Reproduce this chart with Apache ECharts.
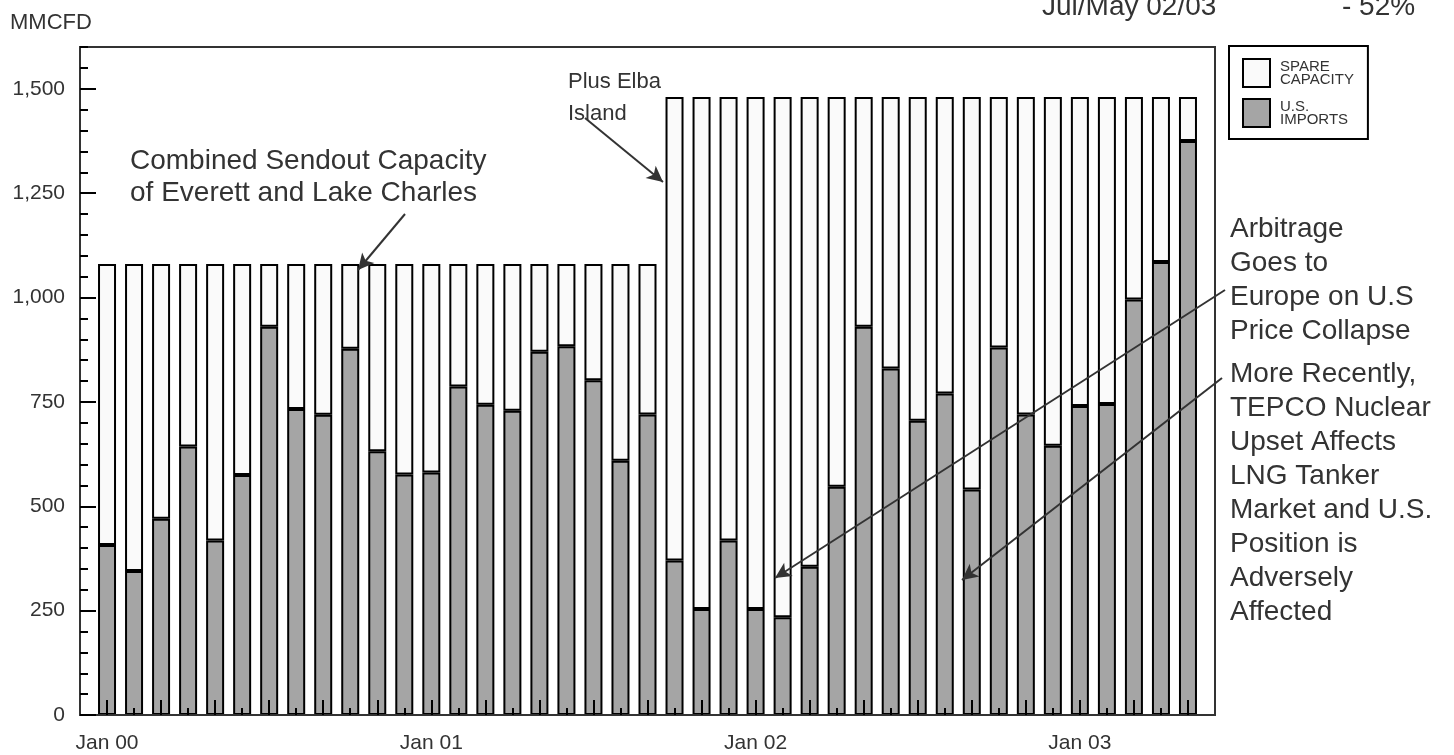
<!DOCTYPE html>
<html>
<head>
<meta charset="utf-8">
<script src="https://cdn.jsdelivr.net/npm/echarts@6/dist/echarts.min.js"></script>
<style>
html,body{margin:0;padding:0;background:#fff;}
#chart{width:1454px;height:755px;}
</style>
</head>
<body>
<div id="chart"></div>
<script>
// ---- data ----
const months = ['Jan 00','Feb 00','Mar 00','Apr 00','May 00','Jun 00','Jul 00','Aug 00','Sep 00','Oct 00','Nov 00','Dec 00',
  'Jan 01','Feb 01','Mar 01','Apr 01','May 01','Jun 01','Jul 01','Aug 01','Sep 01','Oct 01','Nov 01','Dec 01',
  'Jan 02','Feb 02','Mar 02','Apr 02','May 02','Jun 02','Jul 02','Aug 02','Sep 02','Oct 02','Nov 02','Dec 02',
  'Jan 03','Feb 03','Mar 03','Apr 03','May 03'];
const shownLabels = ['Jan 00','Jan 01','Jan 02','Jan 03'];
const usImports = [407,345,470,643,418,575,930,733,719,877,632,576,
  581,787,743,729,870,883,802,609,720,370,254,418,
  254,234,355,547,930,830,705,770,540,880,720,645,
  740,745,995,1085,1375];
const capacity = [1080,1080,1080,1080,1080,1080,1080,1080,1080,1080,1080,1080,
  1080,1080,1080,1080,1080,1080,1080,1080,1080,1480,1480,1480,
  1480,1480,1480,1480,1480,1480,1480,1480,1480,1480,1480,1480,
  1480,1480,1480,1480,1480];
const yTicks = [0,250,500,750,1000,1250,1500];

// ---- build ----
const cats = [' '].concat(months, ['  ']);
const spare = capacity.map((c,i)=>c-usImports[i]);
const pad = arr => ['-'].concat(arr, ['-']);
const FONT = 'Liberation Sans, Arial, sans-serif';
const TXT = '#333';

const chart = echarts.init(document.getElementById('chart'), null, {renderer:'canvas'});
const option = {
  animation:false,
  backgroundColor:'#fff',
  textStyle:{fontFamily:FONT},
  grid:{left:80,right:239,top:47,bottom:40,show:true,borderColor:'#333',borderWidth:2,backgroundColor:'transparent'},
  legend:{
    orient:'vertical',left:1229,top:46,icon:'rect',
    data:['SPARE\nCAPACITY','U.S.\nIMPORTS'],
    borderColor:'#000',borderWidth:2,padding:[12,14,11,13],
    itemWidth:27,itemHeight:28,itemGap:10,
    textStyle:{fontFamily:FONT,fontSize:15,lineHeight:13,color:TXT,padding:[0,0,0,5]}
  },
  xAxis:[{
    type:'category',data:cats,boundaryGap:false,position:'bottom',z:10,
    axisLine:{show:true,lineStyle:{color:'#333',width:2}},
    axisTick:{show:true,inside:true,length:15,lineStyle:{color:'#000',width:2},
      interval:function(i){return i%2===1 && i<cats.length-1;}},
    axisLabel:{show:true,interval:0,color:TXT,fontSize:21,fontFamily:FONT,margin:18,
      formatter:function(v){return shownLabels.indexOf(v)>=0?v:'';}},
    splitLine:{show:false}
  },{
    type:'category',data:cats,boundaryGap:false,position:'bottom',z:10,offset:0,
    axisLine:{show:false},
    axisTick:{show:true,inside:true,length:7,lineStyle:{color:'#000',width:2},
      interval:function(i){return i%2===0 && i>0 && i<cats.length-1;}},
    axisLabel:{show:false},splitLine:{show:false}
  }],
  yAxis:[{
    type:'value',min:0,max:1600,interval:250,position:'left',z:10,
    axisLine:{show:true,lineStyle:{color:'#333',width:2}},
    axisTick:{show:true,inside:true,length:16,lineStyle:{color:'#000',width:2}},
    axisLabel:{color:TXT,fontSize:21,fontFamily:FONT,margin:15,showMaxLabel:false,
      formatter:function(v){return yTicks.indexOf(v)>=0?v.toLocaleString('en-US'):'';}},
    splitLine:{show:false}
  },{
    type:'value',min:0,max:1600,interval:50,position:'left',z:10,offset:0,
    axisLine:{show:false},
    axisTick:{show:true,inside:true,length:8,lineStyle:{color:'#000',width:2}},
    axisLabel:{show:false},splitLine:{show:false}
  }],
  series:[{
    name:'U.S.\nIMPORTS',type:'bar',stack:'t',xAxisIndex:0,yAxisIndex:0,barWidth:18,
    itemStyle:{color:'#a5a5a5',borderColor:'#000',borderWidth:2},
    data:pad(usImports)
  },{
    name:'SPARE\nCAPACITY',type:'bar',stack:'t',xAxisIndex:0,yAxisIndex:0,barWidth:18,
    itemStyle:{color:'#fafafa',borderColor:'#000',borderWidth:2},
    data:pad(spare),
    markLine:{
      silent:true,symbol:['none','arrow'],symbolSize:[12,16],
      label:{show:false},
      lineStyle:{color:'#333',width:2,type:'solid'},
      data:[
        [{x:585,y:118},{x:663,y:182}],
        [{x:405,y:214},{x:358,y:270}],
        [{x:1225,y:290},{x:775,y:578}],
        [{x:1222,y:378},{x:962,y:580}]
      ]
    }
  }],
  graphic:[
    {type:'text',left:10,top:12,style:{text:'MMCFD',font:'22px '+FONT,fill:TXT}},
    {type:'text',left:1042,top:-7,style:{text:'Jul/May 02/03',font:'28px '+FONT,fill:TXT}},
    {type:'text',left:1342,top:-7,style:{text:'- 52%',font:'28px '+FONT,fill:TXT}},
    {type:'text',left:568,top:66,style:{text:'Plus Elba\nIsland',font:'22px '+FONT,fill:TXT,lineHeight:32}},
    {type:'text',left:130,top:145,style:{text:'Combined Sendout Capacity\nof Everett and Lake Charles',font:'28px '+FONT,fill:TXT,lineHeight:32}},
    {type:'text',left:1230,top:212,style:{text:'Arbitrage\nGoes to\nEurope on U.S\nPrice Collapse',font:'28px '+FONT,fill:TXT,lineHeight:34}},
    {type:'text',left:1230,top:357,style:{text:'More Recently,\nTEPCO Nuclear\nUpset Affects\nLNG Tanker\nMarket and U.S.\nPosition is\nAdversely\nAffected',font:'28px '+FONT,fill:TXT,lineHeight:34}}
  ]
};
chart.setOption(option);
</script>
</body>
</html>
